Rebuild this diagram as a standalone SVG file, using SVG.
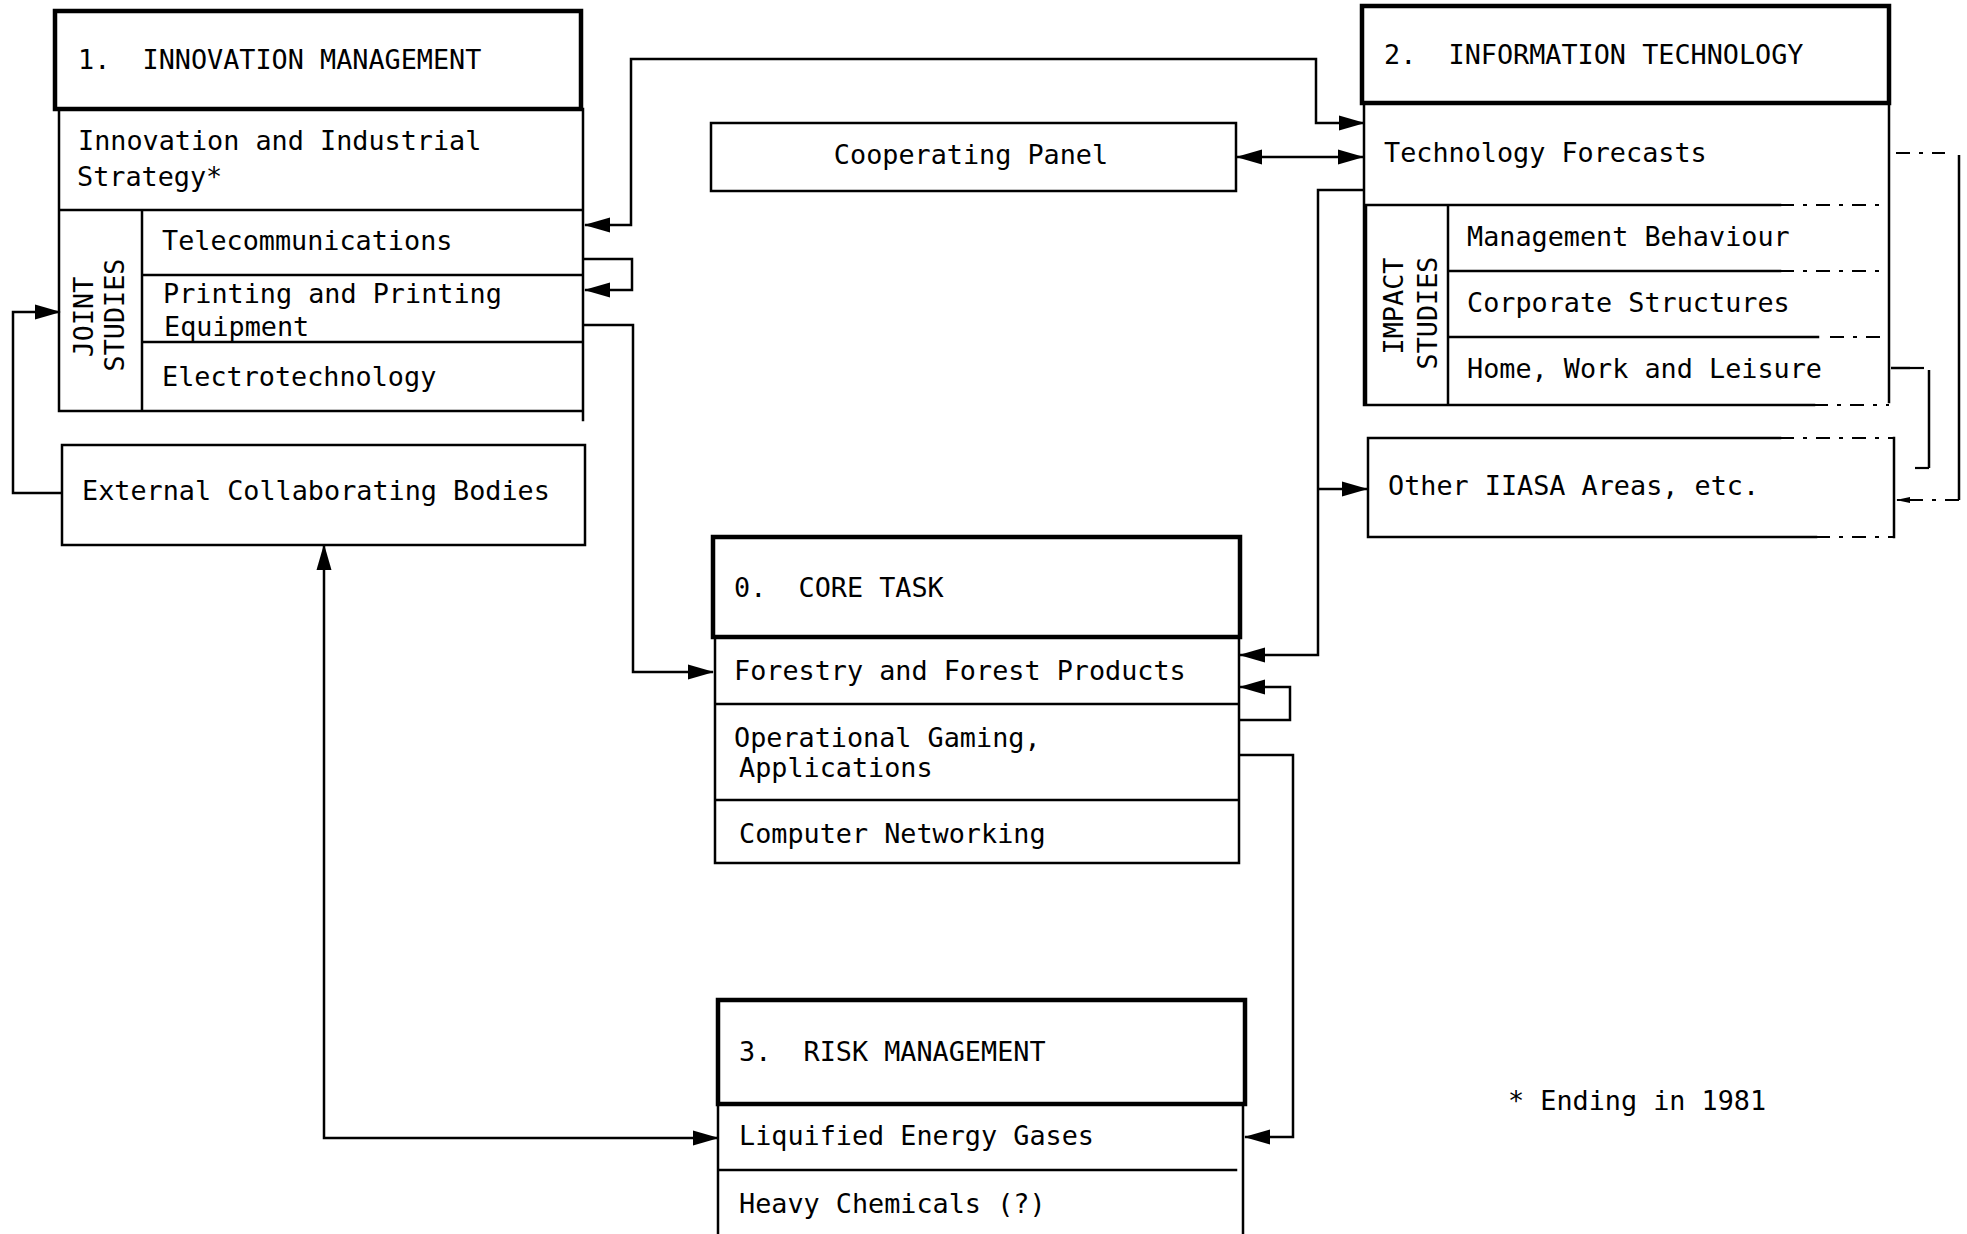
<svg xmlns="http://www.w3.org/2000/svg" width="1967" height="1234" viewBox="0 0 1967 1234">
  <style>
    .ln { fill: none; stroke: #000; stroke-width: 2.5; stroke-linecap: square; }
    .hd { fill: none; stroke: #000; stroke-width: 4.5; }
    .ds { fill: none; stroke: #000; stroke-width: 2.2; stroke-dasharray: 14 9 4 9; }
    .cn { fill: none; stroke: #000; stroke-width: 2.5; }
    .t { font-family: "DejaVu Sans Mono", "Liberation Mono", monospace; font-size: 26.8px; fill: #000; }
  </style>
  <defs>
    <marker id="ah" markerUnits="userSpaceOnUse" viewBox="0 0 26 16" markerWidth="26" markerHeight="16" refX="25" refY="8" orient="auto-start-reverse">
      <path d="M0,0.5 L26,8 L0,15.5 Z" fill="#000"/>
    </marker>
    <marker id="ahs" markerUnits="userSpaceOnUse" viewBox="0 0 14 8" markerWidth="14" markerHeight="8" refX="13" refY="4" orient="auto">
      <path d="M0,1 L14,4 L0,7 Z" fill="#000"/>
    </marker>
  </defs>
  <rect width="1967" height="1234" fill="#fff"/>

  <!-- 1. Innovation Management -->
  <g id="innovation-management">
    <rect class="hd" x="55" y="11" width="526" height="98"/>
    <path class="ln" d="M59,109 V411 H583 V109 M583,411 V420 M59,210 H583 M142,210 V411 M142,275 H583 M142,342 H583"/>
    <text class="t" x="78" y="69" xml:space="preserve">1.  INNOVATION MANAGEMENT</text>
    <text class="t" x="78" y="150">Innovation and Industrial</text>
    <text class="t" x="77" y="186">Strategy*</text>
    <text class="t" transform="translate(93,317) rotate(-90)" text-anchor="middle">JOINT</text>
    <text class="t" transform="translate(124,315) rotate(-90)" text-anchor="middle">STUDIES</text>
    <text class="t" x="162" y="250">Telecommunications</text>
    <text class="t" x="163" y="303">Printing and Printing</text>
    <text class="t" x="164" y="336">Equipment</text>
    <text class="t" x="162" y="386">Electrotechnology</text>
  </g>

  <g id="external-bodies">
    <rect class="ln" x="62" y="445" width="523" height="100"/>
    <text class="t" x="82" y="500">External Collaborating Bodies</text>
  </g>

  <g id="cooperating-panel">
    <rect class="ln" x="711" y="123" width="525" height="68"/>
    <text class="t" x="971" y="164" text-anchor="middle">Cooperating Panel</text>
  </g>

  <!-- 2. Information Technology -->
  <g id="information-technology">
    <rect class="hd" x="1362" y="6" width="527" height="97"/>
    <path class="ln" d="M1364,103 V405 H1814 M1889,103 V402 M1364,205 H1780 M1366,205 V405 M1448,205 V405 M1448,271 H1780 M1448,337 H1818"/>
    <path class="ds" d="M1780,205 H1889 M1780,271 H1889 M1830,337 H1889 M1814,405 H1889"/>
    <text class="t" x="1384" y="64" xml:space="preserve">2.  INFORMATION TECHNOLOGY</text>
    <text class="t" x="1384" y="162">Technology Forecasts</text>
    <text class="t" transform="translate(1403,306) rotate(-90)" text-anchor="middle">IMPACT</text>
    <text class="t" transform="translate(1437,313) rotate(-90)" text-anchor="middle">STUDIES</text>
    <text class="t" x="1467" y="246">Management Behaviour</text>
    <text class="t" x="1467" y="312">Corporate Structures</text>
    <text class="t" x="1467" y="378">Home, Work and Leisure</text>
  </g>

  <g id="other-areas">
    <path class="ln" d="M1780,438 H1368 V537 H1816 M1894,438 V537"/>
    <path class="ds" d="M1780,438 H1894 M1816,537 H1894"/>
    <text class="t" x="1388" y="495">Other IIASA Areas, etc.</text>
  </g>

  <!-- 0. Core Task -->
  <g id="core-task">
    <rect class="hd" x="713" y="537" width="527" height="100"/>
    <path class="ln" d="M715,637 V863 H1239 V637 M715,704 H1239 M715,800 H1239"/>
    <text class="t" x="734" y="597" xml:space="preserve">0.  CORE TASK</text>
    <text class="t" x="734" y="680">Forestry and Forest Products</text>
    <text class="t" x="734" y="747">Operational Gaming,</text>
    <text class="t" x="739" y="777">Applications</text>
    <text class="t" x="739" y="843">Computer Networking</text>
  </g>

  <!-- 3. Risk Management -->
  <g id="risk-management">
    <rect class="hd" x="718" y="1000" width="527" height="104"/>
    <path class="ln" d="M718,1104 V1234 M1243,1104 V1234 M718,1170 H1236"/>
    <text class="t" x="739" y="1061" xml:space="preserve">3.  RISK MANAGEMENT</text>
    <text class="t" x="739" y="1145">Liquified Energy Gases</text>
    <text class="t" x="739" y="1213">Heavy Chemicals (?)</text>
  </g>

  <g id="footnote">
    <text class="t" x="1508" y="1110">* Ending in 1981</text>
  </g>

  <!-- connectors -->
  <g id="connectors">
    <path class="cn" d="M1364,123 H1316 V59 H631 V225 H585" marker-start="url(#ah)" marker-end="url(#ah)"/>
    <path class="cn" d="M583,259 H632 V290 H585" marker-end="url(#ah)"/>
    <path class="cn" d="M583,325 H633 V672 H713" marker-end="url(#ah)"/>
    <path class="cn" d="M1237,157 H1363" marker-start="url(#ah)" marker-end="url(#ah)"/>
    <path class="cn" d="M1364,190 H1318 V655 H1240" marker-end="url(#ah)"/>
    <path class="cn" d="M1318,489 H1367" marker-end="url(#ah)"/>
    <path class="cn" d="M1239,720 H1290 V687 H1240" marker-end="url(#ah)"/>
    <path class="cn" d="M1239,755 H1293 V1137 H1245" marker-end="url(#ah)"/>
    <path class="cn" d="M324,545 V1138 H718" marker-start="url(#ah)" marker-end="url(#ah)"/>
    <path class="cn" d="M62,493 H13 V312 H60" marker-end="url(#ah)"/>
    <!-- dashed links on the right of Information Technology -->
    <path class="ds" d="M1896,153 H1945"/>
    <path class="cn" d="M1959,155 V500"/>
    <path class="ds" d="M1959,500 H1897" marker-end="url(#ahs)"/>
    <path class="cn" d="M1891,368 H1910"/>
    <path class="ds" d="M1910,368 H1929"/>
    <path class="cn" d="M1929,370 V468"/>
    <path class="ds" d="M1929,468 H1908"/>
  </g>
</svg>
